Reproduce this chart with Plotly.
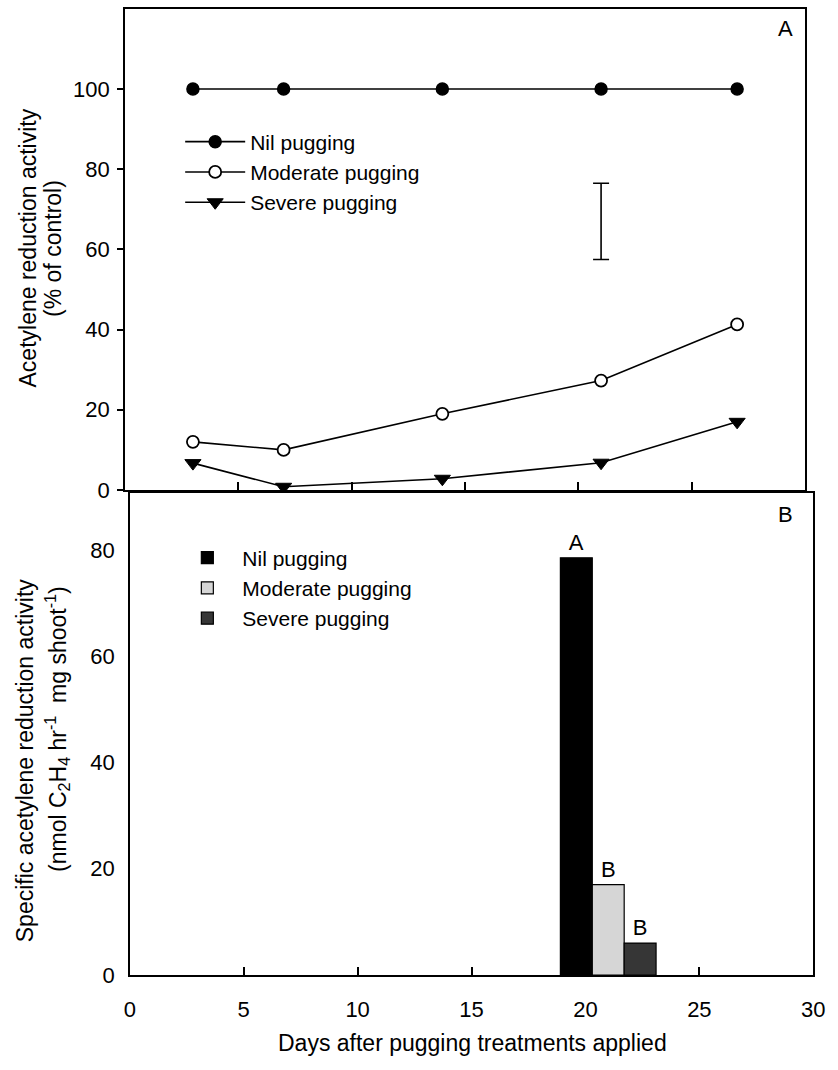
import plotly.graph_objects as go

# ---------------- data ----------------
days = [3, 7, 14, 21, 27]
nil_pct = [100, 100, 100, 100, 100]
moderate_pct = [12, 10, 19, 27.3, 41.3]
severe_pct = [6.7, 0.8, 2.8, 6.8, 17]

lsd_day = [21]
lsd_center = [67]
lsd_half = [9.5]

bar_day = [21]
treatments = ["Nil pugging", "Moderate pugging", "Severe pugging"]
specific_ara = [78.5, 17, 6]
sig_letters = ["A", "B", "B"]

x_ticks = [0, 5, 10, 15, 20, 25, 30]
top_y_ticks = [0, 20, 40, 60, 80, 100]
bot_y_ticks = [0, 20, 40, 60, 80]

# ---------------- layout helpers ----------------
W, H = 838, 1070
FONT = "Liberation Sans, Arial, Helvetica, sans-serif"
FS_TICK = 22
FS_LEG = 21
FS_TITLE = 23


def fx(p):
    return p / W


def fy(p):
    return 1 - p / H


fig = go.Figure()

# ---- panel A: line chart ----
line_styles = [
    (nil_pct, treatments[0], dict(symbol="circle", size=12, color="black",
                                  line=dict(color="black", width=1.5))),
    (moderate_pct, treatments[1], dict(symbol="circle", size=12, color="white",
                                       line=dict(color="black", width=1.8))),
    (severe_pct, treatments[2], dict(symbol="triangle-down", size=14, color="black",
                                     line=dict(color="black", width=1))),
]
for vals, name, mk in line_styles:
    fig.add_trace(go.Scatter(
        x=days, y=vals, name=name, mode="lines+markers",
        line=dict(color="black", width=1.6), marker=mk,
        xaxis="x", yaxis="y", legend="legend",
    ))

# LSD / error bar
fig.add_trace(go.Scatter(
    x=lsd_day, y=lsd_center, mode="markers",
    marker=dict(size=1, color="rgba(0,0,0,0)"),
    error_y=dict(type="data", array=lsd_half, color="black", thickness=1.6, width=8),
    showlegend=False, xaxis="x", yaxis="y", hoverinfo="skip",
))

# ---- panel B: bars ----
bar_colors = ["black", "#d6d6d6", "#363636"]
bar_offsets = [-2.1, -0.7, 0.7]
for i in range(3):
    fig.add_trace(go.Bar(
        x=bar_day, y=[specific_ara[i]], name=treatments[i],
        width=[1.4], offset=[bar_offsets[i]],
        marker=dict(color=bar_colors[i], line=dict(color="black", width=1.2)),
        text=[sig_letters[i]], textposition="outside",
        textfont=dict(family=FONT, size=22, color="black"),
        cliponaxis=False,
        xaxis="x2", yaxis="y2", legend="legend2",
    ))

axis_common = dict(showline=True, mirror=True, linecolor="black", linewidth=1.5,
                   showgrid=False, zeroline=False,
                   tickfont=dict(family=FONT, size=FS_TICK, color="black"))

fig.update_layout(
    width=W, height=H,
    margin=dict(l=0, r=0, t=0, b=0),
    paper_bgcolor="white", plot_bgcolor="white",
    font=dict(family=FONT, size=FS_TICK, color="black"),
    barmode="overlay",
    xaxis=dict(domain=[fx(121.5), fx(816.7)], anchor="y", range=[0, 30],
               tickvals=x_ticks[1:-1], ticks="inside", ticklen=8, tickwidth=1.5,
               tickcolor="black", showticklabels=False, **axis_common),
    yaxis=dict(domain=[fy(496), fy(9)], anchor="x", range=[0, 120],
               tickvals=top_y_ticks, ticks="outside", ticklen=6, tickwidth=1.5,
               tickcolor="black", ticklabelstandoff=3, **axis_common),
    xaxis2=dict(domain=[fx(126.5), fx(825)], anchor="y2", range=[0, 30],
                tickvals=x_ticks, ticks="inside", ticklen=8, tickwidth=1.5,
                tickcolor="black", ticklabelstandoff=14, **axis_common),
    yaxis2=dict(domain=[fy(987), fy(499)], anchor="x2", range=[0, 90.7],
                tickvals=bot_y_ticks, ticks="", ticklabelstandoff=9, **axis_common),
    legend=dict(x=fx(178), y=fy(123), xanchor="left", yanchor="top",
                bgcolor="rgba(0,0,0,0)", font=dict(family=FONT, size=FS_LEG),
                tracegroupgap=0, itemwidth=60),
    legend2=dict(x=fx(170), y=fy(544), xanchor="left", yanchor="top",
                 bgcolor="rgba(0,0,0,0)", font=dict(family=FONT, size=FS_LEG),
                 tracegroupgap=0, itemwidth=60),
    showlegend=True,
)

ann = [
    dict(text="A", x=fx(797), y=fy(29), size=22),
    dict(text="B", x=fx(797), y=fy(521), size=22),
    dict(text="Acetylene reduction activity", x=fx(22), y=fy(251), textangle=-90, size=FS_TITLE),
    dict(text="(% of control)", x=fx(48), y=fy(251), textangle=-90, size=FS_TITLE),
    dict(text="Specific acetylene reduction activity", x=fx(19), y=fy(770), textangle=-90, size=FS_TITLE),
    dict(text="(nmol C<sub>2</sub>H<sub>4</sub> hr<sup>-1</sup>  mg shoot<sup>-1</sup>)",
         x=fx(52), y=fy(738), textangle=-90, size=FS_TITLE),
    dict(text="Days after pugging treatments applied", x=fx(477), y=fy(1056), size=FS_TITLE),
]
for a in ann:
    size = a.pop("size")
    fig.add_annotation(xref="paper", yref="paper", showarrow=False,
                       xanchor="center", yanchor="middle",
                       font=dict(family=FONT, size=size, color="black"), **a)

fig.write_html("out.html")
